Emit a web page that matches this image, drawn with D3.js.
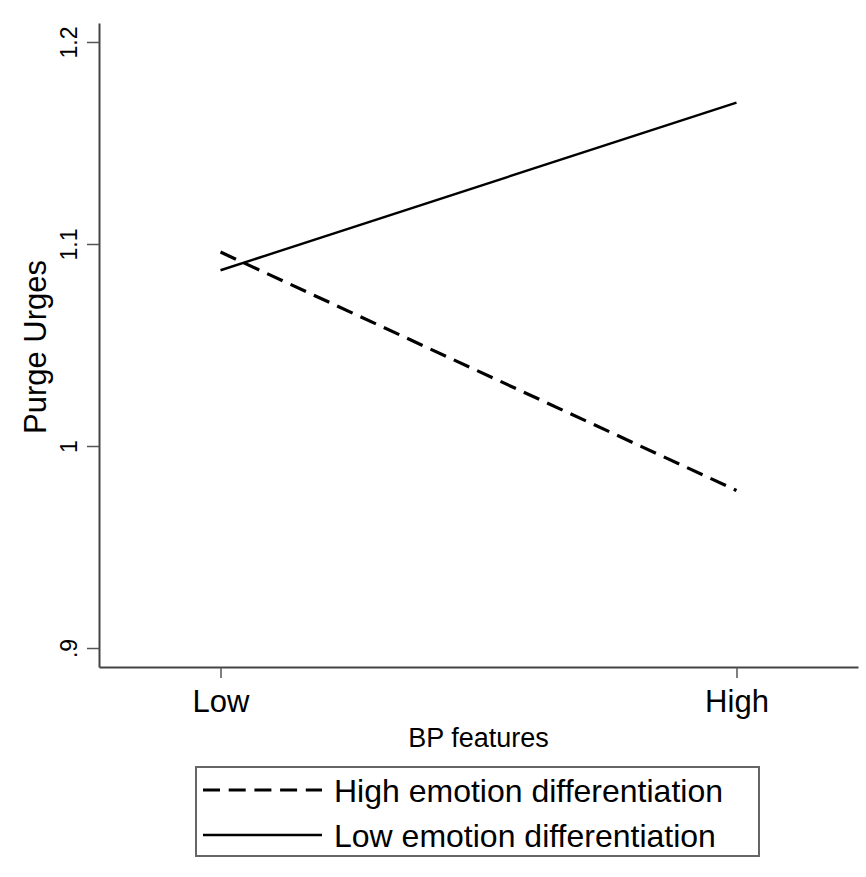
<!DOCTYPE html>
<html>
<head>
<meta charset="utf-8">
<script src="https://cdn.jsdelivr.net/npm/d3@7"></script>
<style>
  body { margin: 0; background: #fff; }
  text { font-family: "Liberation Sans", Arial, Helvetica, sans-serif; fill: #000; }
</style>
</head>
<body>
<svg id="chart"></svg>
<script>
// data
var levels = ["Low", "High"];
var seriesNames = ["High emotion differentiation", "Low emotion differentiation"];
var highDiff = [1.096, 0.978];
var lowDiff = [1.087, 1.170];
var yTicks = [0.9, 1, 1.1, 1.2];
var yTickLabels = [".9", "1", "1.1", "1.2"];

var W = 866, H = 877;
var margin = {top: 23, right: 8, bottom: 210, left: 99},
    width = W - margin.left - margin.right,
    height = H - margin.top - margin.bottom;

var svg = d3.select("#chart")
    .attr("width", W)
    .attr("height", H)
  .append("g")
    .attr("transform", "translate(" + margin.left + "," + margin.top + ")");

// scales
var x = d3.scalePoint()
    .domain(levels)
    .range([0, width])
    .padding(0.2355);

var y = d3.scaleLinear()
    .domain([0.8906, 1.2094])
    .range([height, 0]);

// x axis
var xAxis = svg.append("g")
    .attr("transform", "translate(0," + height + ")")
    .call(d3.axisBottom(x).tickSize(11).tickPadding(10).tickSizeOuter(0));
xAxis.select(".domain").attr("stroke", "#444").attr("stroke-width", 2);
xAxis.selectAll(".tick line").attr("stroke", "#555").attr("stroke-width", 1.5);
xAxis.selectAll(".tick text")
    .style("font-size", "31px")
    .attr("dy", "0.78em");

svg.append("text")
    .attr("x", width / 2)
    .attr("y", height + 80)
    .style("text-anchor", "middle")
    .style("font-size", "27px")
    .text("BP features");

// y axis
var yAxis = svg.append("g")
    .call(d3.axisLeft(y).tickValues(yTicks)
      .tickFormat(function(d, i) { return yTickLabels[i]; })
      .tickSize(12).tickSizeOuter(0));
yAxis.select(".domain").attr("stroke", "#444").attr("stroke-width", 2);
yAxis.selectAll(".tick line").attr("stroke", "#555").attr("stroke-width", 1.5);
yAxis.selectAll(".tick text")
    .attr("x", null).attr("dy", null)
    .attr("transform", "translate(-22,0) rotate(-90)")
    .style("text-anchor", "middle")
    .style("font-size", "23px");

svg.append("text")
    .attr("transform", "translate(" + (46 - margin.left) + "," + (347 - margin.top) + ") rotate(-90)")
    .style("text-anchor", "middle")
    .style("font-size", "31px")
    .text("Purge Urges");

// lines
var line = d3.line()
    .x(function(d, i) { return x(levels[i]); })
    .y(function(d) { return y(d); });

svg.append("path")
    .datum(highDiff)
    .attr("fill", "none")
    .attr("stroke", "#000")
    .attr("stroke-width", 3.2)
    .attr("stroke-dasharray", "17,8.7")
    .attr("d", line);

svg.append("path")
    .datum(lowDiff)
    .attr("fill", "none")
    .attr("stroke", "#000")
    .attr("stroke-width", 2.4)
    .attr("d", line);

// legend
var legend = d3.select("#chart").append("g");
legend.append("rect")
    .attr("x", 196)
    .attr("y", 767)
    .attr("width", 563)
    .attr("height", 89)
    .attr("fill", "none")
    .attr("stroke", "#666")
    .attr("stroke-width", 2);

var styles = [{dash: "17,8.7", w: 3.2}, {dash: null, w: 2.6}];
seriesNames.forEach(function(name, i) {
  var ly = 790 + i * 45;
  legend.append("line")
      .attr("x1", 203).attr("x2", 322)
      .attr("y1", ly).attr("y2", ly)
      .attr("stroke", "#000")
      .attr("stroke-width", styles[i].w)
      .attr("stroke-dasharray", styles[i].dash);
  legend.append("text")
      .attr("x", 334)
      .attr("y", ly + 12)
      .style("font-size", "32px")
      .text(name);
});
</script>
</body>
</html>
